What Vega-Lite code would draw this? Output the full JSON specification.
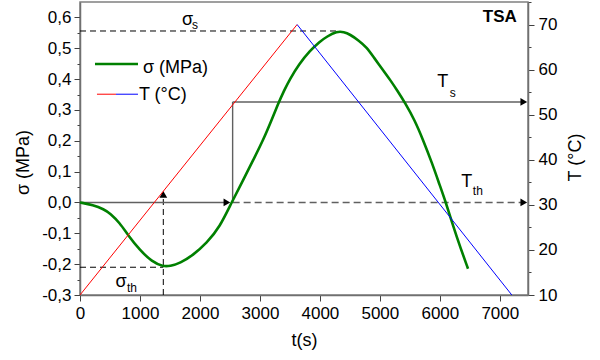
{
  "$schema": "https://vega.github.io/schema/vega-lite/v6.json",
  "width": 448,
  "height": 293,
  "autosize": {"type": "none"},
  "padding": {"left": 80, "top": 2, "right": 72, "bottom": 65},
  "config": {
    "font": "Liberation Sans",
    "view": {"stroke": "#808080", "strokeWidth": 1.5},
    "axis": {
      "grid": false,
      "domainColor": "#707070",
      "domainWidth": 1.5,
      "tickColor": "#404040",
      "tickWidth": 1,
      "labelColor": "#000000",
      "labelFontSize": 17,
      "labelFont": "Liberation Sans",
      "titleFont": "Liberation Sans",
      "titleFontSize": 18,
      "titleFontWeight": "normal",
      "titleColor": "#000000",
      "labelOverlap": false,
      "labelFlush": false
    }
  },
  "datasets": {
    "sigma": [
      {"t": 0, "s": 0}, {"t": 217, "s": -0.008}, {"t": 400, "s": -0.022}, {"t": 500, "s": -0.035},
      {"t": 667, "s": -0.067}, {"t": 800, "s": -0.106}, {"t": 1000, "s": -0.155}, {"t": 1200, "s": -0.192},
      {"t": 1389, "s": -0.208}, {"t": 1500, "s": -0.206}, {"t": 1667, "s": -0.197}, {"t": 1889, "s": -0.17},
      {"t": 2111, "s": -0.132}, {"t": 2333, "s": -0.079}, {"t": 2528, "s": 0}, {"t": 2722, "s": 0.073},
      {"t": 2889, "s": 0.138}, {"t": 3056, "s": 0.203}, {"t": 3200, "s": 0.27}, {"t": 3300, "s": 0.318},
      {"t": 3400, "s": 0.362}, {"t": 3500, "s": 0.4}, {"t": 3650, "s": 0.448}, {"t": 3833, "s": 0.492},
      {"t": 4000, "s": 0.522}, {"t": 4117, "s": 0.538}, {"t": 4283, "s": 0.555}, {"t": 4400, "s": 0.553},
      {"t": 4500, "s": 0.545}, {"t": 4650, "s": 0.525}, {"t": 4780, "s": 0.503}, {"t": 4900, "s": 0.47},
      {"t": 5050, "s": 0.43}, {"t": 5170, "s": 0.398}, {"t": 5290, "s": 0.363}, {"t": 5420, "s": 0.323},
      {"t": 5580, "s": 0.267}, {"t": 5720, "s": 0.203}, {"t": 5870, "s": 0.128}, {"t": 6000, "s": 0.055},
      {"t": 6100, "s": 0.0}, {"t": 6220, "s": -0.075}, {"t": 6340, "s": -0.145}, {"t": 6470, "s": -0.215}
    ],
    "temp": [
      {"seg": "rise", "t": 0, "T": 10}, {"seg": "rise", "t": 3620, "T": 70},
      {"seg": "fall", "t": 3620, "T": 70}, {"seg": "fall", "t": 7200, "T": 10}
    ],
    "solid": [
      {"id": "zero", "t": 0, "s": 0}, {"id": "zero", "t": 2450, "s": 0},
      {"id": "ts", "t": 2545, "s": 0.326}, {"id": "ts", "t": 7400, "s": 0.326},
      {"id": "vert", "t": 2545, "s": 0}, {"id": "vert", "t": 2545, "s": 0.326}
    ],
    "dashBlack": [
      {"id": "ss", "t": 0, "s": 0.556}, {"id": "ss", "t": 4330, "s": 0.556},
      {"id": "sth", "t": 0, "s": -0.21}, {"id": "sth", "t": 1389, "s": -0.21},
      {"id": "vth", "t": 1389, "s": -0.3}, {"id": "vth", "t": 1389, "s": 0.02}
    ],
    "dashGray": [
      {"id": "tth", "t": 2545, "s": 0}, {"id": "tth", "t": 7400, "s": 0}
    ],
    "arrows": [
      {"t": 2450, "s": 0, "dir": "right"},
      {"t": 7400, "s": 0.326, "dir": "right"},
      {"t": 7400, "s": 0, "dir": "right"},
      {"t": 1389, "s": 0.026, "dir": "up"}
    ],
    "legGreen": [{"t": 250, "s": 0.449}, {"t": 967, "s": 0.449}],
    "legT": [
      {"seg": "rise", "t": 283, "s": 0.351}, {"seg": "rise", "t": 600, "s": 0.351},
      {"seg": "fall", "t": 600, "s": 0.351}, {"seg": "fall", "t": 967, "s": 0.351}
    ],
    "legText": [
      {"t": 1050, "s": 0.436, "label": "σ (MPa)"},
      {"t": 983, "s": 0.349, "label": "T (°C)"}
    ],
    "mainSym": [
      {"t": 1792, "s": 0.592, "label": "σ"},
      {"t": 6050, "s": 0.389, "label": "T"},
      {"t": 6450, "s": 0.066, "label": "T"},
      {"t": 683, "s": -0.258, "label": "σ"}
    ],
    "subSym": [
      {"t": 1867, "s": 0.574, "label": "s"},
      {"t": 6167, "s": 0.356, "label": "s"},
      {"t": 6550, "s": 0.036, "label": "th"},
      {"t": 783, "s": -0.276, "label": "th"}
    ],
    "tsa": [{"t": 7283, "s": 0.6, "label": "TSA"}]
  },
  "layer": [
    {
      "encoding": {
        "x": {
          "field": "t", "type": "quantitative",
          "scale": {"domain": [0, 7470], "nice": false, "zero": false},
          "axis": {
            "title": "t(s)",
            "values": [0, 500, 1000, 1500, 2000, 2500, 3000, 3500, 4000, 4500, 5000, 5500, 6000, 6500, 7000],
            "labelExpr": "datum.value % 1000 == 0 ? format(datum.value, 'd') : ''",
            "tickSize": {"condition": {"test": "datum.value % 1000 != 0", "value": 3}, "value": 6},
            "labelPadding": 4,
            "titlePadding": 10
          }
        },
        "y": {
          "field": "s", "type": "quantitative",
          "scale": {"domain": [-0.3, 0.65], "nice": false, "zero": false},
          "axis": {
            "orient": "left",
            "title": "σ (MPa)",
            "titleY": 160,
            "values": [-0.3, -0.25, -0.2, -0.15, -0.1, -0.05, 0, 0.05, 0.1, 0.15, 0.2, 0.25, 0.3, 0.35, 0.4, 0.45, 0.5, 0.55, 0.6],
            "labelExpr": "abs(datum.value*10 - round(datum.value*10)) > 0.01 ? '' : replace(replace(format(datum.value, '.1f'), '.', ','), '−', '-')",
            "tickSize": {"condition": {"test": "abs(datum.value*10 - round(datum.value*10)) > 0.01", "value": 3}, "value": 6},
            "labelPadding": 3,
            "titlePadding": 9
          }
        }
      },
      "layer": [
        {
          "data": {"name": "dashBlack"},
          "mark": {"type": "line", "color": "#000000", "strokeWidth": 1, "strokeDash": [6, 4]},
          "encoding": {"detail": {"field": "id"}}
        },
        {
          "data": {"name": "dashGray"},
          "mark": {"type": "line", "color": "#606060", "strokeWidth": 1.6, "strokeDash": [7, 4]},
          "encoding": {"detail": {"field": "id"}}
        },
        {
          "data": {"name": "solid"},
          "mark": {"type": "line", "color": "#606060", "strokeWidth": 1.4},
          "encoding": {"detail": {"field": "id"}}
        },
        {
          "data": {"name": "arrows"},
          "mark": {"type": "point", "filled": true, "color": "#000000", "opacity": 1, "size": 60},
          "encoding": {
            "shape": {"field": "dir", "type": "nominal", "scale": {"domain": ["right", "up"], "range": ["triangle-right", "triangle-up"]}, "legend": null}
          }
        },
        {
          "data": {"name": "sigma"},
          "mark": {"type": "line", "color": "#008000", "strokeWidth": 2.6, "interpolate": "basis"}
        },
        {
          "data": {"name": "legGreen"},
          "mark": {"type": "line", "color": "#008000", "strokeWidth": 2.6}
        },
        {
          "data": {"name": "legT"},
          "mark": {"type": "line", "strokeWidth": 1},
          "encoding": {
            "color": {"field": "seg", "type": "nominal", "scale": {"domain": ["rise", "fall"], "range": ["#ff0000", "#0000ff"]}, "legend": null}
          }
        },
        {
          "data": {"name": "legText"},
          "mark": {"type": "text", "align": "left", "baseline": "middle", "fontSize": 18, "color": "#000000"},
          "encoding": {"text": {"field": "label"}}
        },
        {
          "data": {"name": "mainSym"},
          "mark": {"type": "text", "align": "center", "baseline": "middle", "fontSize": 18, "color": "#000000"},
          "encoding": {"text": {"field": "label"}}
        },
        {
          "data": {"name": "subSym"},
          "mark": {"type": "text", "align": "left", "baseline": "middle", "fontSize": 12, "color": "#000000"},
          "encoding": {"text": {"field": "label"}}
        },
        {
          "data": {"name": "tsa"},
          "mark": {"type": "text", "align": "right", "baseline": "middle", "fontSize": 17, "fontWeight": "bold", "color": "#000000"},
          "encoding": {"text": {"field": "label"}}
        }
      ]
    },
    {
      "data": {"name": "temp"},
      "mark": {"type": "line", "strokeWidth": 1},
      "encoding": {
        "x": {"field": "t", "type": "quantitative", "scale": {"domain": [0, 7470], "nice": false, "zero": false}},
        "y": {
          "field": "T", "type": "quantitative",
          "scale": {"domain": [10, 75], "nice": false, "zero": false},
          "axis": {
            "orient": "right",
            "title": "T (°C)",
            "titleAngle": -90,
            "titleX": 47,
            "titleY": 155,
            "titleAlign": "center",
            "titleBaseline": "middle",
            "values": [10, 15, 20, 25, 30, 35, 40, 45, 50, 55, 60, 65, 70, 75],
            "labelExpr": "datum.value % 10 == 0 ? format(datum.value, 'd') : ''",
            "tickSize": {"condition": {"test": "datum.value % 10 != 0", "value": 3}, "value": 6},
            "labelPadding": 4
          }
        },
        "color": {"field": "seg", "type": "nominal", "scale": {"domain": ["rise", "fall"], "range": ["#ff0000", "#0000ff"]}, "legend": null}
      }
    }
  ],
  "resolve": {"scale": {"y": "independent"}}
}
